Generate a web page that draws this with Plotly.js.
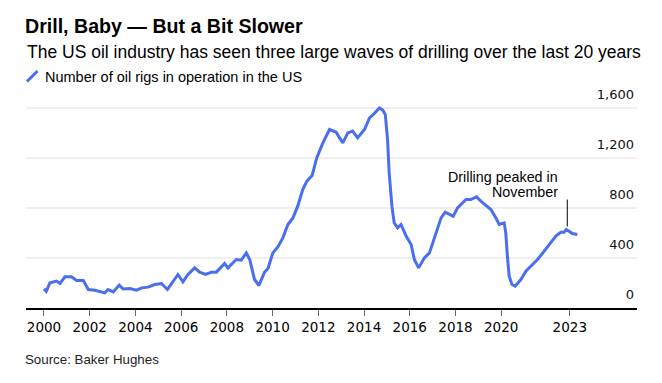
<!DOCTYPE html>
<html>
<head>
<meta charset="utf-8">
<script src="https://cdn.plot.ly/plotly-3.0.1.min.js"></script>
<style>html,body{margin:0;padding:0;background:#fff;}#chart{width:662px;height:383px;}</style>
</head>
<body>
<div id="chart"></div>
<script>
// Decimal years and number of US oil rigs (Baker Hughes)
const years = [2000.00,2000.10,2000.26,2000.55,2000.70,2000.92,2001.20,2001.43,2001.72,2001.94,
  2002.23,2002.66,2002.80,2003.03,2003.29,2003.46,2003.76,2004.05,2004.27,2004.55,2004.85,
  2005.14,2005.40,2005.65,2005.86,2006.08,2006.30,2006.59,2006.81,2007.07,2007.32,2007.54,
  2007.90,2008.05,2008.41,2008.63,2008.85,2009.00,2009.21,2009.40,2009.65,2009.80,2010.01,
  2010.23,2010.45,2010.67,2010.89,2011.10,2011.32,2011.50,2011.73,2011.93,2012.20,2012.49,
  2012.78,2012.93,2013.07,2013.29,2013.50,2013.72,2014.02,2014.24,2014.45,2014.67,2014.82,
  2014.93,2015.03,2015.10,2015.22,2015.32,2015.47,2015.62,2015.84,2016.06,2016.20,2016.39,
  2016.64,2016.86,2017.15,2017.37,2017.55,2017.76,2017.90,2018.09,2018.31,2018.46,2018.67,
  2018.92,2019.11,2019.33,2019.55,2019.77,2019.91,2020.13,2020.20,2020.27,2020.35,2020.47,
  2020.61,2020.86,2021.08,2021.37,2021.59,2021.88,2022.17,2022.39,2022.61,2022.75,2022.85,
  2022.97,2023.11,2023.33];
const rigs = [153,134,201,215,196,250,250,220,220,148,
  142,121,148,129,183,153,156,143,161,167,188,
  196,148,215,268,210,268,321,287,268,287,287,
  356,321,388,383,441,388,228,180,287,316,441,
  489,561,668,721,815,948,1015,1060,1201,1321,1428,
  1407,1361,1321,1401,1415,1361,1428,1521,1556,1601,1583,
  1548,1348,1081,815,681,641,668,575,508,388,321,
  401,441,601,721,767,748,735,801,841,868,868,
  889,855,820,788,721,668,681,601,415,255,188,
  175,228,295,348,388,455,521,575,607,607,628,
  615,596,588];
const xTickVals = [2000,2002,2004,2006,2008,2010,2012,2014,2016,2018,2020,2023];
const xTickText = ['2000','2002','2004','2006','2008','2010','2012','2014','2016','2018','2020','2023'];
const yTickVals = [0,400,800,1200,1600];
const seriesName = 'Number of oil rigs in operation in the US';
const peakYear = 2022.89;

const FONT = '"Liberation Sans", Arial, Helvetica, sans-serif';
const NUMFONT = '"DejaVu Sans", "Liberation Sans", sans-serif';
const BLUE = '#4a6ef0';
const M = {l: 26, r: 25, t: 80, b: 75};
const PLOT_W = 662 - M.l - M.r, PLOT_H = 383 - M.t - M.b;
const py = (px) => (383 - M.b - px) / PLOT_H; // pixel row -> paper y
const pxX = (px) => (px - M.l) / PLOT_W;      // pixel col -> paper x

const trace = {
  x: years, y: rigs, type: 'scatter', mode: 'lines', name: seriesName,
  line: {color: BLUE, width: 3, shape: 'linear'}, hoverinfo: 'skip'
};

const layout = {
  width: 662, height: 383,
  margin: M,
  paper_bgcolor: '#fff', plot_bgcolor: '#fff',
  showlegend: false,
  font: {family: FONT, color: '#000', size: 13},
  title: {
    text: '<b>Drill, Baby — But a Bit Slower</b>',
    x: 25/662, xanchor: 'left', xref: 'container',
    y: 1 - 26/383, yanchor: 'middle', yref: 'container',
    font: {family: FONT, size: 19.6, color: '#000'}
  },
  xaxis: {
    type: 'linear', range: [1999.214, 2025.94],
    tickvals: xTickVals, ticktext: xTickText,
    ticks: 'outside', ticklen: 6, tickwidth: 1, tickcolor: '#666',
    showline: true, linecolor: '#000', linewidth: 1.5,
    showgrid: false, zeroline: false,
    tickfont: {family: NUMFONT, size: 13.5, color: '#000'}
  },
  yaxis: {
    range: [0, 1824], side: 'right',
    tickvals: yTickVals, tickformat: ',',
    ticklabelposition: 'inside', ticklabelshift: -14,
    showgrid: true, gridcolor: '#efefef', gridwidth: 1.5,
    zeroline: false, showline: false, ticks: '',
    tickfont: {family: NUMFONT, size: 13, color: '#111'}
  },
  annotations: [
    {xref: 'paper', yref: 'paper', x: pxX(25), y: py(51.5), xanchor: 'left', yanchor: 'middle',
     text: 'The US oil industry has seen three large waves of drilling over the last 20 years',
     showarrow: false, font: {family: FONT, size: 17.5, color: '#000'}},
    {xref: 'paper', yref: 'paper', x: pxX(42.5), y: py(77), xanchor: 'left', yanchor: 'middle',
     text: seriesName, showarrow: false, font: {family: FONT, size: 14.5, color: '#000'}},
    {xref: 'paper', yref: 'paper', x: pxX(23), y: py(359), xanchor: 'left', yanchor: 'middle',
     text: 'Source: Baker Hughes', showarrow: false, font: {family: FONT, size: 13.3, color: '#222'}},
    {xref: 'x', yref: 'y', x: 2022.57, y: 1052, xanchor: 'right', yanchor: 'middle', align: 'right',
     text: 'Drilling peaked in', showarrow: false,
     font: {family: FONT, size: 14.3, color: '#000'}},
    {xref: 'x', yref: 'y', x: 2022.57, y: 926, xanchor: 'right', yanchor: 'middle', align: 'right',
     text: 'November', showarrow: false,
     font: {family: FONT, size: 14.3, color: '#000'}}
  ],
  shapes: [
    {type: 'line', xref: 'paper', yref: 'paper', x0: pxX(27), y0: py(81.5), x1: pxX(37.5), y1: py(71),
     line: {color: BLUE, width: 3}},
    {type: 'line', xref: 'x', yref: 'y', x0: peakYear, x1: peakYear, y0: 652, y1: 868,
     line: {color: '#000', width: 1}}
  ]
};

Plotly.newPlot('chart', [trace], layout, {staticPlot: true, displayModeBar: false});
</script>
</body>
</html>
